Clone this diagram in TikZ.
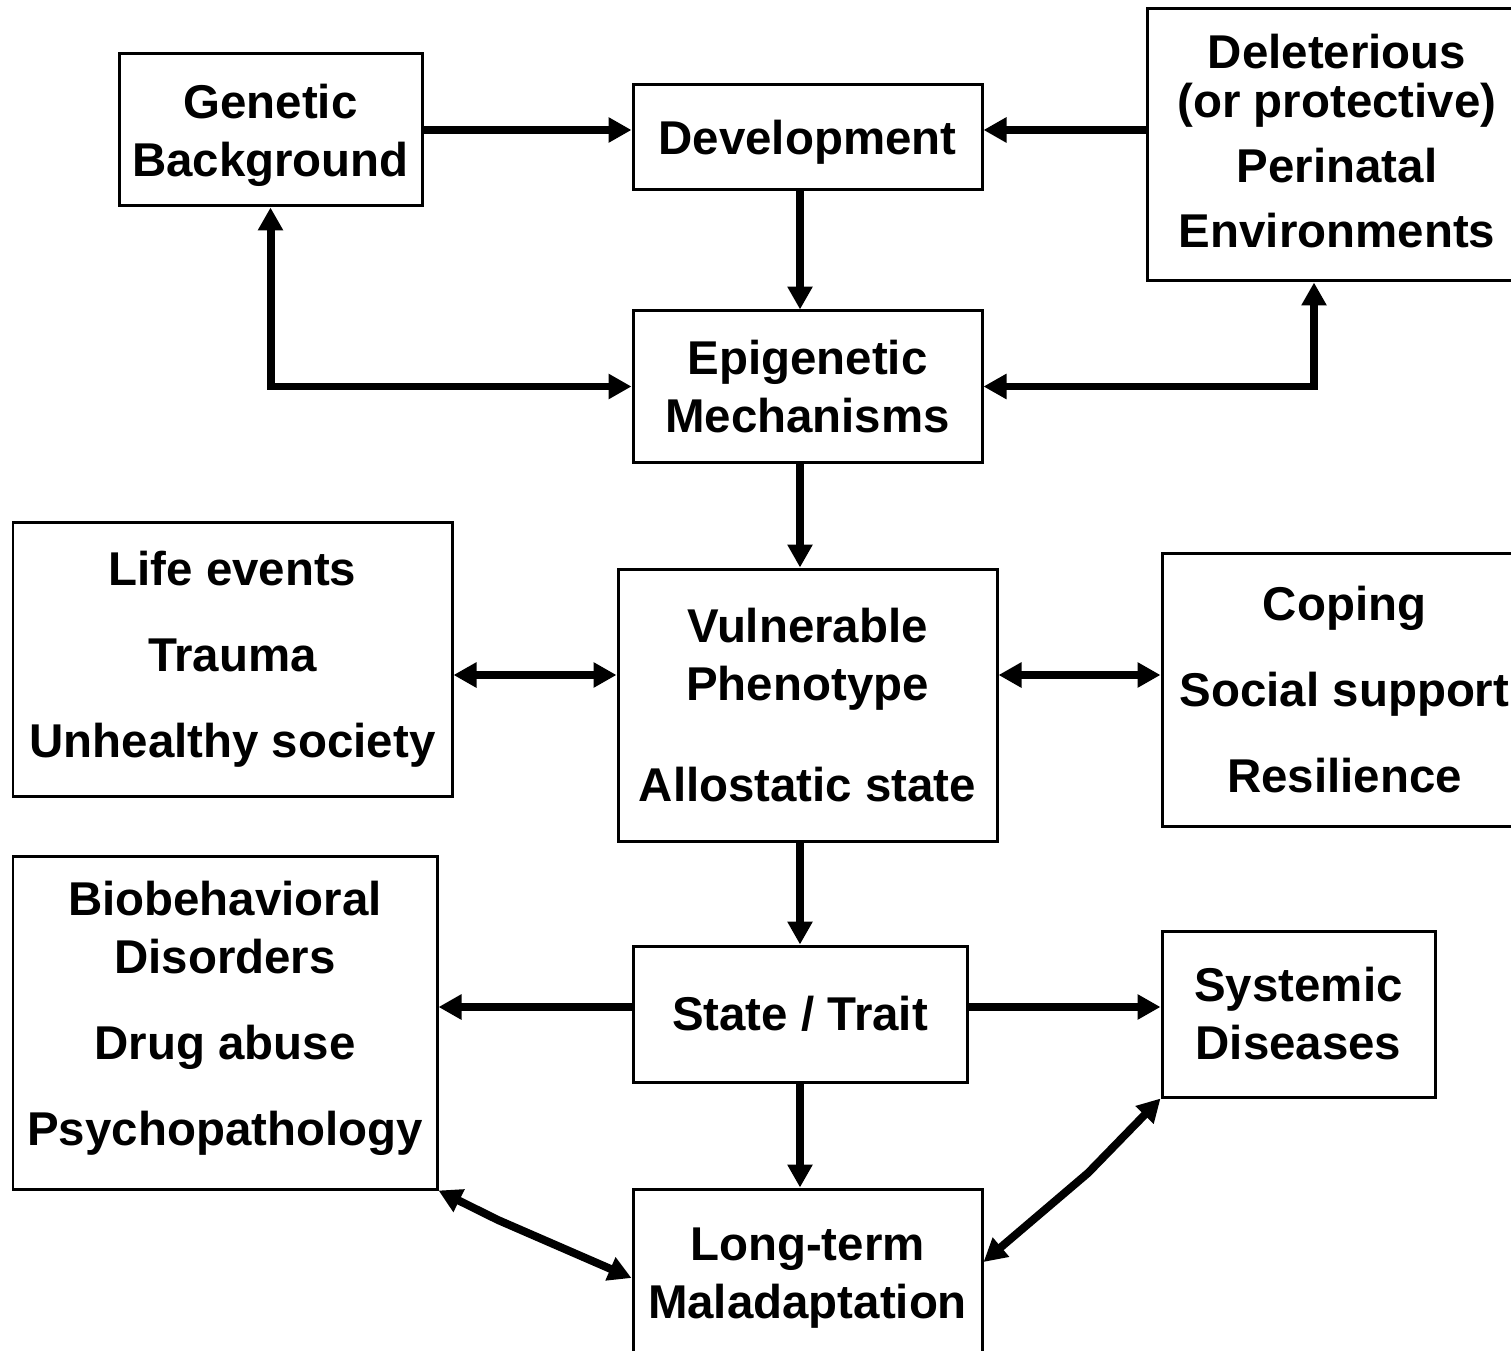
\documentclass[tikz,border=0pt]{standalone}
\usepackage{fontspec}
\setmainfont{Liberation Sans}
\usetikzlibrary{arrows.meta}
\begin{document}
\begin{tikzpicture}[x=0.02cm,y=-0.02cm,
  box/.style={draw,line width=0.06cm,inner sep=0pt,align=center,
    font=\fontsize{27}{33}\selectfont\bfseries},
  wh/.style 2 args={minimum width=#1*0.02cm,minimum height=#2*0.02cm},
  flow/.style={line width=0.16cm,-{Triangle[length=0.46cm,width=0.48cm]}},
  both/.style={line width=0.16cm,{Triangle[length=0.46cm,width=0.48cm]}-{Triangle[length=0.46cm,width=0.48cm]}}]
\clip (0,0) rectangle (1511,1351);

% boxes
\node[box,wh={303}{152},text depth=0pt] (gen) at (270.5,130) {Genetic\\Background};
\node[box,wh={349}{105},text depth=0pt] (dev) at (807.5,137.5) {Development};
\node[box,wh={380}{272},text depth=4.6pt] (del) at (1337,145) {Deleterious\\[-5.1pt](or protective)\\[4pt]Perinatal\\[4pt]Environments};
\node[box,wh={349}{151}] (epi) at (807.5,386.5) {Epigenetic\\Mechanisms};
\node[box,wh={439}{274}] (life) at (232.5,659) {Life events\\[16pt]Trauma\\[16pt]Unhealthy society};
\node[box,wh={379}{272}] (vul) at (807.5,705) {Vulnerable\\Phenotype\\[24.5pt]Allostatic state};
\node[box,wh={365}{273}] (cop) at (1344.5,689.5) {Coping\\[16pt]Social support\\[16pt]Resilience};
\node[box,wh={424}{333},text depth=10pt] (bio) at (225,1022.5) {Biobehavioral\\Disorders\\[16pt]Drug abuse\\[16pt]Psychopathology};
\node[box,wh={334}{136}] (st) at (800,1014) {State / Trait};
\node[box,wh={273}{166}] (sys) at (1298.5,1014) {Systemic\\Diseases};
\node[box,wh={349}{168},text depth=0pt] (lt) at (807.5,1273) {Long-term\\Maladaptation};

% guide coordinates for connector routes
\coordinate (spine) at (800,0);
\coordinate (dcol) at (1314,0);
\coordinate (mrow) at (0,675);
\coordinate (srow) at (0,1007);
\coordinate (lrow) at (0,1278);
\coordinate (rrow) at (0,1262);
\coordinate (bl) at (498,1220);
\coordinate (br) at (1088,1173);

% connectors
\draw[flow] (gen.east) -- (gen.east -| dev.west);
\draw[flow] (del.west |- gen.east) -- (gen.east -| dev.east);
\draw[flow] (dev.south -| spine) -- (epi.north -| spine);
\draw[both] (gen.south) -- (gen.south |- epi.west) -- (epi.west);
\draw[both] (epi.east) -- (epi.east -| dcol) -- (del.south -| dcol);
\draw[flow] (epi.south -| spine) -- (vul.north -| spine);
\draw[both] (life.east |- mrow) -- (vul.west |- mrow);
\draw[both] (vul.east |- mrow) -- (cop.west |- mrow);
\draw[flow] (vul.south -| spine) -- (st.north -| spine);
\draw[flow] (st.west |- srow) -- (bio.east |- srow);
\draw[flow] (st.east |- srow) -- (sys.west |- srow);
\draw[flow] (st.south -| spine) -- (lt.north -| spine);
\draw[both] (bio.south east) -- (bl) -- (lt.west |- lrow);
\draw[both] (sys.south west) -- (br) -- (lt.east |- rrow);
\end{tikzpicture}
\end{document}
